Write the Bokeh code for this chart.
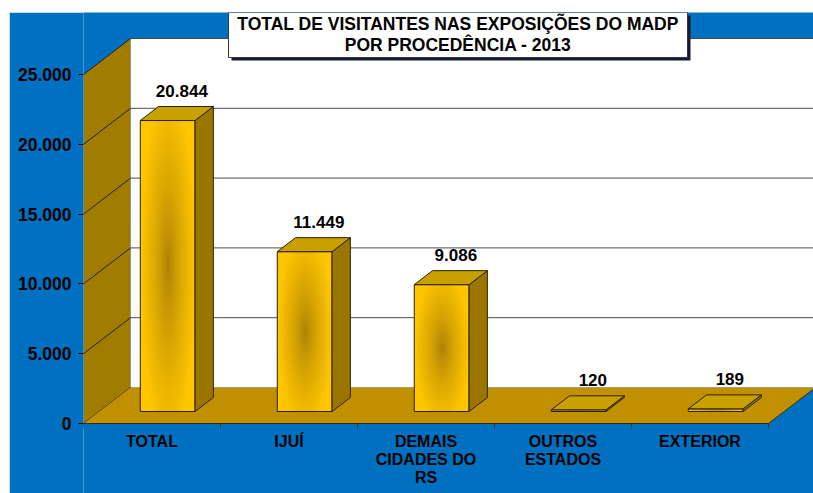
import numpy as np
from bokeh.plotting import figure
from bokeh.models import Range1d, FixedTicker, Spacer
from bokeh.layouts import column, row
from bokeh.core.properties import value
from bokeh.embed import file_html
from bokeh.resources import INLINE

# ---------------- data ----------------
categories = ["TOTAL", "IJUÍ", "DEMAIS\nCIDADES DO\nRS", "OUTROS\nESTADOS", "EXTERIOR"]
visitors = [20844, 11449, 9086, 120, 189]
value_labels = ["20.844", "11.449", "9.086", "120", "189"]
y_ticks = [0, 5000, 10000, 15000, 20000, 25000]
y_tick_labels = ["0", "5.000", "10.000", "15.000", "20.000", "25.000"]
title_lines = ["TOTAL DE VISITANTES NAS EXPOSIÇÕES DO MADP", "POR PROCEDÊNCIA - 2013"]

# ---------------- styling / geometry ----------------
FONT = value("Liberation Sans")
BLUE = "#0070C0"
WALL = "#A07C00"
FLOOR = "#C09000"
SIDE = "#9A7600"
TOP = "#C8A000"
GRID = "#4a4a4a"

W, H = 804, 481
ORIGIN = (9, 12)               # offset of the chart inside the picture
BORDER_LEFT = 74
CAT_PX = 137.0                 # pixels per category
UNIT_PX = 69.8 / 5000.0        # pixels per visitor
ZERO_FROM_BOTTOM = 70          # px from frame bottom to value 0
DEPTH_PX = (47.0, 36.0)        # 3-D depth offset in px (right, up)
BAR_W = 0.40                   # bar width in categories
BAR_Z = (12.0 / 36.0, 26.0 / 36.0)  # bar front/back depth fractions

frame_w = W - BORDER_LEFT
x_end = frame_w / CAT_PX
y_start = -ZERO_FROM_BOTTOM / UNIT_PX
y_end = (H - ZERO_FROM_BOTTOM) / UNIT_PX
DX = DEPTH_PX[0] / CAT_PX
DY = DEPTH_PX[1] / UNIT_PX
YMAX = y_ticks[-1]
n = len(categories)


def px(d):
    """pixel distance -> data units (vertical)"""
    return d / UNIT_PX


def sx(pic_x):
    return (pic_x - ORIGIN[0] - BORDER_LEFT) / CAT_PX


def sy(pic_y):
    return (ORIGIN[1] + H - ZERO_FROM_BOTTOM - pic_y) / UNIT_PX


p = figure(width=W, height=H, output_backend="svg", toolbar_location=None,
           x_range=Range1d(0, x_end), y_range=Range1d(y_start, y_end),
           x_axis_location=None, y_axis_location="left",
           min_border_left=BORDER_LEFT, min_border_right=0,
           min_border_top=0, min_border_bottom=0)
p.background_fill_color = BLUE
p.border_fill_color = BLUE
p.outline_line_color = None
p.grid.visible = False

# y axis
ax = p.yaxis[0]
ax.ticker = FixedTicker(ticks=y_ticks)
ax.major_label_overrides = {t: l for t, l in zip(y_ticks, y_tick_labels)}
ax.axis_line_color = None
ax.major_tick_in = 0
ax.major_tick_out = 5
ax.major_tick_line_color = "black"
ax.minor_tick_line_color = None
ax.major_label_standoff = 7
ax.major_label_text_font = "Liberation Sans"
ax.major_label_text_font_style = "bold"
ax.major_label_text_font_size = "17.5px"
ax.major_label_text_color = "black"

# back wall
p.quad(left=[DX], right=[x_end + 1], bottom=[DY], top=[YMAX + DY],
       fill_color="white", line_color=None)
# back wall gridlines
p.segment(x0=[DX] * (len(y_ticks) - 1), y0=[t + DY for t in y_ticks[1:]],
          x1=[x_end + 1] * (len(y_ticks) - 1), y1=[t + DY for t in y_ticks[1:]],
          line_color=GRID, line_width=1)
# left wall
p.patch(x=[0, 0, DX, DX], y=[0, YMAX, YMAX + DY, DY],
        fill_color=WALL, line_color=None)
p.segment(x0=[0] * len(y_ticks), y0=y_ticks,
          x1=[DX] * len(y_ticks), y1=[t + DY for t in y_ticks],
          line_color="#222222", line_width=1)
# floor
p.patch(x=[0, n, n + DX, DX], y=[0, 0, DY, DY],
        fill_color=FLOOR, line_color=None)
p.line(x=[0, n, n + DX], y=[0, 0, DY], line_color="#3a2e00", line_width=1)
# category ticks
p.segment(x0=list(range(n + 1)), y0=[0] * (n + 1),
          x1=list(range(n + 1)), y1=[-px(5)] * (n + 1),
          line_color="#333333", line_width=1)

# gradient image for bar fronts
gx, gy = 64, 160
X, Y = np.meshgrid(np.linspace(-1, 1, gx), np.linspace(-1, 1, gy))
d = np.clip(np.sqrt(X ** 2 + (0.8 * Y) ** 2), 0, 1)
t = d ** 0.7
bright = np.array([255, 198, 0])
dark = np.array([168, 125, 8])
rgb = dark[None, None, :] * (1 - t[..., None]) + bright[None, None, :] * t[..., None]
img = np.empty((gy, gx), dtype=np.uint32)
view = img.view(dtype=np.uint8).reshape((gy, gx, 4))
view[..., 0] = rgb[..., 0].astype(np.uint8)
view[..., 1] = rgb[..., 1].astype(np.uint8)
view[..., 2] = rgb[..., 2].astype(np.uint8)
view[..., 3] = 255

z0, z1 = BAR_Z
fl, fr, fb, ft = [], [], [], []
side_xs, side_ys, top_xs, top_ys = [], [], [], []
for i, v in enumerate(visitors):
    c = i + 0.5
    l = c - BAR_W / 2 + z0 * DX
    r = c + BAR_W / 2 + z0 * DX
    b = z0 * DY
    tp = v + z0 * DY
    ddx = (z1 - z0) * DX
    ddy = (z1 - z0) * DY
    fl.append(l); fr.append(r); fb.append(b); ft.append(tp)
    side_xs.append([r, r + ddx, r + ddx, r])
    side_ys.append([b, b + ddy, tp + ddy, tp])
    top_xs.append([l, r, r + ddx, l + ddx])
    top_ys.append([tp, tp, tp + ddy, tp + ddy])
    p.image_rgba(image=[img], x=l, y=b, dw=r - l, dh=tp - b)

p.quad(left=fl, right=fr, bottom=fb, top=ft, fill_color=None,
       line_color="#2a2000", line_width=1)
p.patches(xs=side_xs, ys=side_ys, fill_color=SIDE, line_color="#2a2000", line_width=1)
p.patches(xs=top_xs, ys=top_ys, fill_color=TOP, line_color="#2a2000", line_width=1)

# value labels
p.text(x=[i + 0.5 + z1 * DX - 0.03 for i in range(n)],
       y=[v + z1 * DY + px(10) for v in visitors],
       text=value_labels, text_font=FONT, text_font_style="bold",
       text_font_size="17px", text_align="center", text_baseline="bottom",
       text_color="black")

# category labels (multi-line)
cx, cy, ct = [], [], []
for i, lab in enumerate(categories):
    for j, line in enumerate(lab.split("\n")):
        cx.append(i + 0.5)
        cy.append(-px(9 + 18 * j))
        ct.append(line)
p.text(x=cx, y=cy, text=ct, text_font=FONT, text_font_style="bold",
       text_font_size="16px", text_align="center", text_baseline="top",
       text_color="black")

# title box
tb_l, tb_r, tb_t, tb_b = sx(228), sx(687), sy(12), sy(57)
p.quad(left=[tb_l + 3 / CAT_PX], right=[tb_r + 3 / CAT_PX],
       bottom=[tb_b - px(3)], top=[tb_t - px(3)],
       fill_color="#1a1a2a", line_color=None)
p.quad(left=[tb_l], right=[tb_r], bottom=[tb_b], top=[tb_t],
       fill_color="white", line_color="#333366", line_width=1)
p.text(x=[(tb_l + tb_r) / 2] * 2, y=[sy(23), sy(44)], text=title_lines,
       text_font=FONT, text_font_style="bold", text_font_size="17.5px",
       text_align="center", text_baseline="middle", text_color="black")

layout = column(Spacer(height=ORIGIN[1], width=W + ORIGIN[0]),
                row(Spacer(width=ORIGIN[0], height=H), p))
open("out.html", "w").write(file_html(layout, INLINE))
